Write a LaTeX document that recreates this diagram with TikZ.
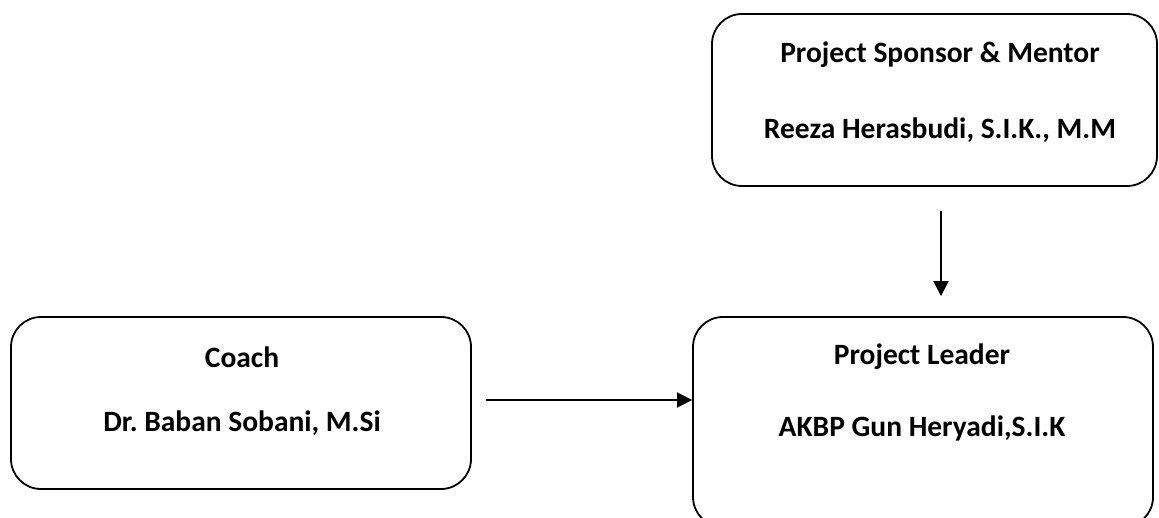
\documentclass[tikz,border=0pt]{standalone}
\usepackage{fontspec}
\setmainfont{Carlito}
\usetikzlibrary{arrows.meta}
\frenchspacing
\begin{document}
\begin{tikzpicture}[x=1pt,y=-1pt,
  box/.style={draw=black, line width=1.8pt, rounded corners=30pt, inner sep=0pt},
  txt/.style={font=\fontsize{29.5}{32}\selectfont\bfseries, inner sep=0pt, anchor=center},
  conn/.style={line width=1.7pt, -{Triangle[length=15pt,width=15pt]}}]
\useasboundingbox (0,0) rectangle (1159,518);
\node[box, minimum width=445pt, minimum height=172pt] (sponsor) at (934.5,100) {};
\node[box, minimum width=460pt, minimum height=172pt] (coach) at (241,403) {};
\node[box, minimum width=460pt, minimum height=210pt] (leader) at (923,422) {};
\node[txt] (t1) at (940,55) {Project Sponsor \& Mentor};
\node[txt] (t2) at (940,130) {Reeza Herasbudi, S.I.K., M.M};
\node[txt] (t3) at (242,357) {Coach};
\node[txt] (t4) at (242,423) {Dr. Baban Sobani, M.Si};
\node[txt] (t5) at (922,357) {Project Leader};
\node[txt] (t6) at (922,428) {AKBP Gun Heryadi,S.I.K};
\draw[conn, shorten <=24pt, shorten >=20pt] ([xshift=6.5pt]sponsor.south) -- ([xshift=6.5pt]sponsor.south |- leader.north);
\draw[conn, shorten <=14pt] ([yshift=3pt]coach.east) -- ([yshift=3pt]coach.east -| leader.west);
\end{tikzpicture}
\end{document}
